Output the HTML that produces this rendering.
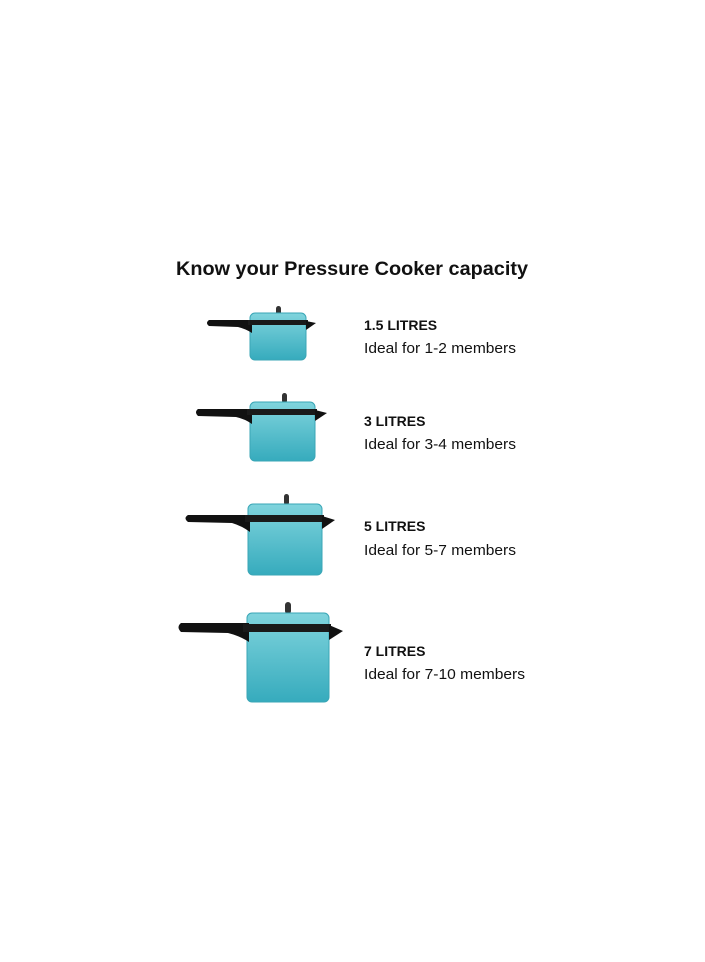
<!DOCTYPE html>
<html><head><meta charset="utf-8"><style>
html,body{margin:0;padding:0;background:#fff;width:705px;height:962px;overflow:hidden}
svg{display:block}
text{font-family:"Liberation Sans",sans-serif;fill:#111}
</style></head><body>
<svg width="705" height="962" viewBox="0 0 705 962" xmlns="http://www.w3.org/2000/svg">
<defs>
<linearGradient id="g" x1="0" y1="0" x2="0" y2="1">
<stop offset="0" stop-color="#80d4dd"/><stop offset="1" stop-color="#36abbd"/>
</linearGradient>
</defs>
<text x="176" y="275" font-size="19" font-weight="bold" textLength="352" lengthAdjust="spacingAndGlyphs">Know your Pressure Cooker capacity</text>

<!-- 1 -->
<g>
<rect x="276" y="306" width="5" height="9" rx="2.5" fill="#333"/>
<rect x="250" y="313" width="56" height="47" rx="5" fill="url(#g)" stroke="#3aa6b6" stroke-width="1"/>
<path d="M209 320 L252 320 L252 333 Q246 329 238 327 L209 326 Q205 323 209 320Z" fill="#111"/>
<rect x="248" y="320" width="60" height="5" fill="#1a1a1a"/>
<path d="M306 321 L316 323 L306 330Z" fill="#111"/>
</g>
<!-- 2 -->
<g>
<rect x="282" y="393" width="5" height="10" rx="2.5" fill="#333"/>
<rect x="250" y="402" width="65" height="59" rx="5" fill="url(#g)" stroke="#3aa6b6" stroke-width="1"/>
<path d="M198 409 L252 409 L252 424 Q245 419 236 417 L198 416 Q194 412 198 409Z" fill="#111"/>
<rect x="247" y="409" width="70" height="6" fill="#1a1a1a"/>
<path d="M315 410 L327 413 L315 421Z" fill="#111"/>
</g>
<!-- 3 -->
<g>
<rect x="284" y="494" width="5" height="11" rx="2.5" fill="#333"/>
<rect x="248" y="504" width="74" height="71" rx="5" fill="url(#g)" stroke="#3aa6b6" stroke-width="1"/>
<path d="M188 515 L250 515 L250 532 Q242 526 232 523 L188 522 Q183 518 188 515Z" fill="#111"/>
<rect x="245" y="515" width="79" height="7" fill="#1a1a1a"/>
<path d="M322 516 L335 520 L322 529Z" fill="#111"/>
</g>
<!-- 4 -->
<g>
<rect x="285" y="602" width="6" height="12" rx="3" fill="#333"/>
<rect x="247" y="613" width="82" height="89" rx="5" fill="url(#g)" stroke="#3aa6b6" stroke-width="1"/>
<path d="M181 623 L249 623 L249 642 Q240 636 228 633 L181 632 Q176 627 181 623Z" fill="#111"/>
<rect x="243" y="624" width="88" height="8" fill="#1a1a1a"/>
<path d="M329 625 L343 631 L329 640Z" fill="#111"/>
</g>

<text x="364" y="330" font-size="14" font-weight="bold">1.5 LITRES</text>
<text x="364" y="353" font-size="15" textLength="152" lengthAdjust="spacingAndGlyphs">Ideal for 1-2 members</text>
<text x="364" y="426" font-size="14" font-weight="bold">3 LITRES</text>
<text x="364" y="449" font-size="15" textLength="152" lengthAdjust="spacingAndGlyphs">Ideal for 3-4 members</text>
<text x="364" y="531" font-size="14" font-weight="bold">5 LITRES</text>
<text x="364" y="555" font-size="15" textLength="152" lengthAdjust="spacingAndGlyphs">Ideal for 5-7 members</text>
<text x="364" y="656" font-size="14" font-weight="bold">7 LITRES</text>
<text x="364" y="679" font-size="15" textLength="161" lengthAdjust="spacingAndGlyphs">Ideal for 7-10 members</text>
</svg>
</body></html>
